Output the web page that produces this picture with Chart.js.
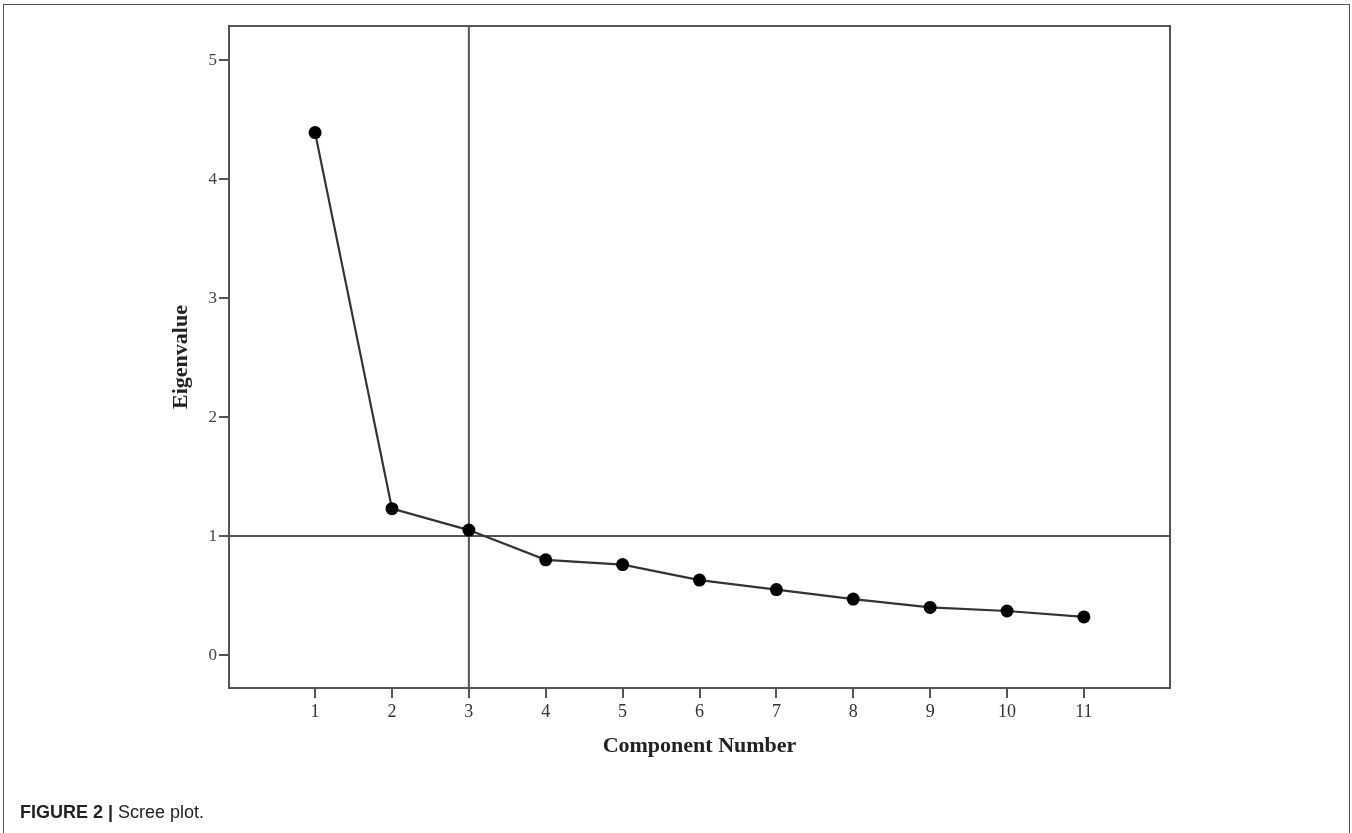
<!DOCTYPE html>
<html>
<head>
<meta charset="utf-8">
<script src="https://cdn.jsdelivr.net/npm/chart.js@4.4.0/dist/chart.umd.min.js"></script>
<style>
    html, body { margin: 0; padding: 0; background: #fff; }
    body { width: 1352px; height: 833px; position: relative; overflow: hidden; }
    #frame {
        position: absolute; left: 3px; top: 4px; width: 1347px; height: 840px;
        border: 1px solid #555; box-sizing: border-box;
    }
    #wrap { position: absolute; left: 0; top: 0; width: 1352px; height: 833px; }
    #caption {
        position: absolute; left: 20px; top: 802px;
        font-family: "Liberation Sans", Arial, sans-serif; font-size: 18px; color: #222;
        white-space: nowrap;
    }
    #caption b { font-weight: bold; }
</style>
</head>
<body>
<div id="frame"></div>
<div id="wrap"><canvas id="screeChart" width="1352" height="833"></canvas></div>
<div id="caption"><b>FIGURE 2 |</b> Scree plot.</div>

<script>
// ==== DATA ====
const componentNumbers = [1, 2, 3, 4, 5, 6, 7, 8, 9, 10, 11];
const eigenvalues = [4.39, 1.23, 1.05, 0.80, 0.76, 0.63, 0.55, 0.47, 0.40, 0.37, 0.32];
const xTickValues = [1, 2, 3, 4, 5, 6, 7, 8, 9, 10, 11];
const yTickValues = [0, 1, 2, 3, 4, 5];

// reference lines (cut-off at component 3, eigenvalue 1)
const refX = 3;
const refY = 1;

const lineColor = "#555";
const serif = "'Liberation Serif', 'Times New Roman', serif";

// ==== FRAME + REFERENCE LINES PLUGIN ====
const frameLines = {
    id: "frameLines",
    beforeDatasetsDraw(chart) {
        const { ctx, chartArea: a, scales } = chart;
        const px = scales.x.getPixelForValue(refX);
        const py = scales.y.getPixelForValue(refY);
        ctx.save();
        ctx.strokeStyle = lineColor;
        ctx.lineWidth = 2;
        ctx.beginPath();
        ctx.moveTo(px, a.top);
        ctx.lineTo(px, a.bottom);
        ctx.moveTo(a.left, py);
        ctx.lineTo(a.right, py);
        ctx.stroke();
        ctx.restore();
    },
    afterDraw(chart) {
        const { ctx, chartArea: a } = chart;
        ctx.save();
        ctx.strokeStyle = lineColor;
        ctx.lineWidth = 2;
        ctx.strokeRect(a.left, a.top, a.right - a.left, a.bottom - a.top);
        ctx.restore();
    }
};

new Chart(document.getElementById("screeChart"), {
    type: "scatter",
    data: {
        datasets: [{
            data: componentNumbers.map((c, i) => ({ x: c, y: eigenvalues[i] })),
            showLine: true,
            borderColor: "#333",
            borderWidth: 2.2,
            pointRadius: 6.5,
            pointBackgroundColor: "#000",
            pointBorderColor: "#000",
            pointBorderWidth: 0
        }]
    },
    options: {
        responsive: false,
        animation: false,
        layout: { padding: { top: 26, right: 182, left: 168, bottom: 73 } },
        plugins: { legend: { display: false }, tooltip: { enabled: false } },
        scales: {
            x: {
                type: "linear",
                min: -0.12,
                max: 12.12,
                afterBuildTicks: s => { s.ticks = xTickValues.map(v => ({ value: v })); },
                afterFit: s => { s.height = 72; },
                grid: { drawOnChartArea: false, drawTicks: true, tickLength: 10, color: lineColor, lineWidth: 2 },
                border: { display: true, color: lineColor, width: 2 },
                ticks: { color: "#333", padding: 3, font: { family: serif, size: 18 } },
                title: {
                    display: true, text: "Component Number", color: "#222",
                    padding: 0, font: { family: serif, size: 22, weight: "bold" }
                }
            },
            y: {
                min: -0.277,
                max: 5.286,
                afterBuildTicks: s => { s.ticks = yTickValues.map(v => ({ value: v })); },
                afterFit: s => { s.width = 61; },
                grid: { drawOnChartArea: false, drawTicks: true, tickLength: 10, color: lineColor, lineWidth: 2 },
                border: { display: true, color: lineColor, width: 2 },
                ticks: { color: "#444", padding: 2, font: { family: serif, size: 17 } },
                title: {
                    display: true, text: "Eigenvalue", color: "#222",
                    padding: 0, font: { family: serif, size: 22, weight: "bold" }
                }
            }
        }
    },
    plugins: [frameLines]
});
</script>
</body>
</html>
